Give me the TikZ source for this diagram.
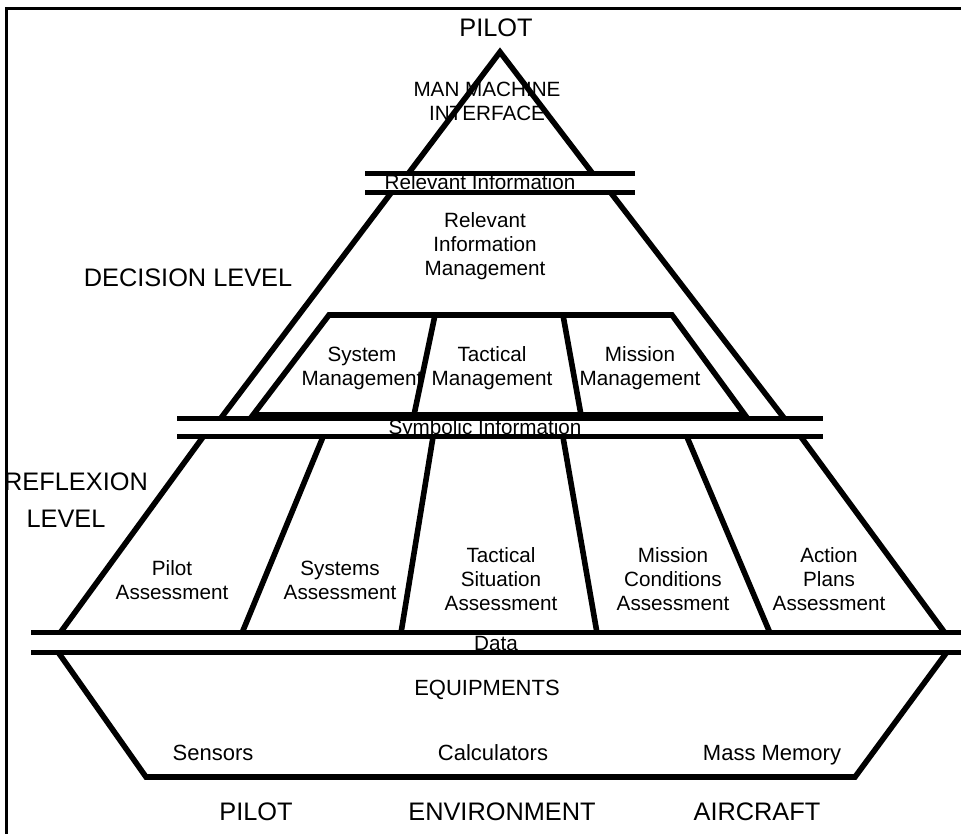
\documentclass[tikz,border=0pt]{standalone}
\usepackage{fontspec}
\setmainfont{Liberation Sans}
\newcommand{\mlines}[1]{\begin{tabular}[t]{@{}c@{}}#1\end{tabular}}
\tikzset{
  shapeline/.style={line width=4.2pt, line join=miter, line cap=butt},
  barline/.style={line width=3.75pt, line cap=butt},
  frameline/.style={line width=2.25pt},
  biglabel/.style={font=\fontsize{19}{22}\selectfont, anchor=base, inner sep=0pt},
  midlabel/.style={font=\fontsize{15.5}{18}\selectfont, anchor=base, inner sep=0pt},
  lowlabel/.style={font=\fontsize{16.5}{18}\selectfont, anchor=base, inner sep=0pt},
}
\begin{document}
\begin{tikzpicture}[x=0.75pt,y=-0.75pt]
\useasboundingbox (0,0) rectangle (961,834);
\fill[white] (0,0) rectangle (961,834);

% ---------- texts ----------
\node[biglabel] (pilottop) at (496,37) {PILOT};
\node[midlabel] (mmi) at (487,97) {\mlines{MAN MACHINE\\INTERFACE}};
\node[midlabel] (relinfo) at (480,190) {Relevant Information};
\node[midlabel] (rim) at (485,228) {\mlines{Relevant\\Information\\Management}};
\node[biglabel] (decision) at (188,287) {DECISION LEVEL};
\node[midlabel] (sysman) at (362,362) {\mlines{System\\Management}};
\node[midlabel] (tacman) at (492,362) {\mlines{Tactical\\Management}};
\node[midlabel] (misman) at (640,362) {\mlines{Mission\\Management}};
\node[midlabel] (symbolic) at (485,435) {Symbolic Information};
\node[biglabel] (reflexion) at (76,490) {REFLEXION};
\node[biglabel] (level) at (66,527) {LEVEL};
\node[midlabel] (pilotass) at (172,575) {\mlines{Pilot\\Assessment}};
\node[midlabel] (sysass) at (340,575) {\mlines{Systems\\Assessment}};
\node[midlabel] (tacass) at (501,562) {\mlines{Tactical\\Situation\\Assessment}};
\node[midlabel] (misass) at (673,562) {\mlines{Mission\\Conditions\\Assessment}};
\node[midlabel] (actass) at (829,562) {\mlines{Action\\Plans\\Assessment}};
\node[midlabel] (data) at (496,650) {Data};
\node[lowlabel] (equip) at (487,695) {EQUIPMENTS};
\node[lowlabel] (sensors) at (213,760) {Sensors};
\node[lowlabel] (calc) at (493,760) {Calculators};
\node[lowlabel] (massmem) at (772,760) {Mass Memory};
\node[biglabel] (pilotbot) at (256,820) {PILOT};
\node[biglabel] (env) at (502,820) {ENVIRONMENT};
\node[biglabel] (aircraft) at (757,820) {AIRCRAFT};

% ---------- frame ----------
\draw[frameline] (961,9) -- (6,9) -- (6,834);

% ---------- man machine interface triangle ----------
\draw[shapeline] (408,174) -- (500,52) -- (593,174);
\draw[barline] (365,174) -- (635,174);
\draw[barline] (365,193) -- (635,193);

% ---------- decision level ----------
\draw[shapeline] (391,193) -- (221,418);
\draw[shapeline] (611,193) -- (784,418);
\draw[shapeline] (253,415) -- (329,315) -- (672,315) -- (745,415) -- cycle;
\draw[shapeline] (435,315) -- (414,415);
\draw[shapeline] (563,315) -- (581,415);
\draw[barline] (177,419) -- (823,419);
\draw[barline] (177,437) -- (823,437);

% ---------- reflexion level ----------
\draw[shapeline] (203,437) -- (60,633);
\draw[shapeline] (801,437) -- (945,633);
\draw[shapeline] (323,437) -- (242,633);
\draw[shapeline] (433,437) -- (401,633);
\draw[shapeline] (563,437) -- (597,633);
\draw[shapeline] (687,437) -- (770,633);
\draw[barline] (31,632) -- (961,632);
\draw[barline] (31,652) -- (961,652);

% ---------- equipments ----------
\draw[shapeline] (58,652) -- (146,777) -- (855,777) -- (947,652);
\end{tikzpicture}
\end{document}
